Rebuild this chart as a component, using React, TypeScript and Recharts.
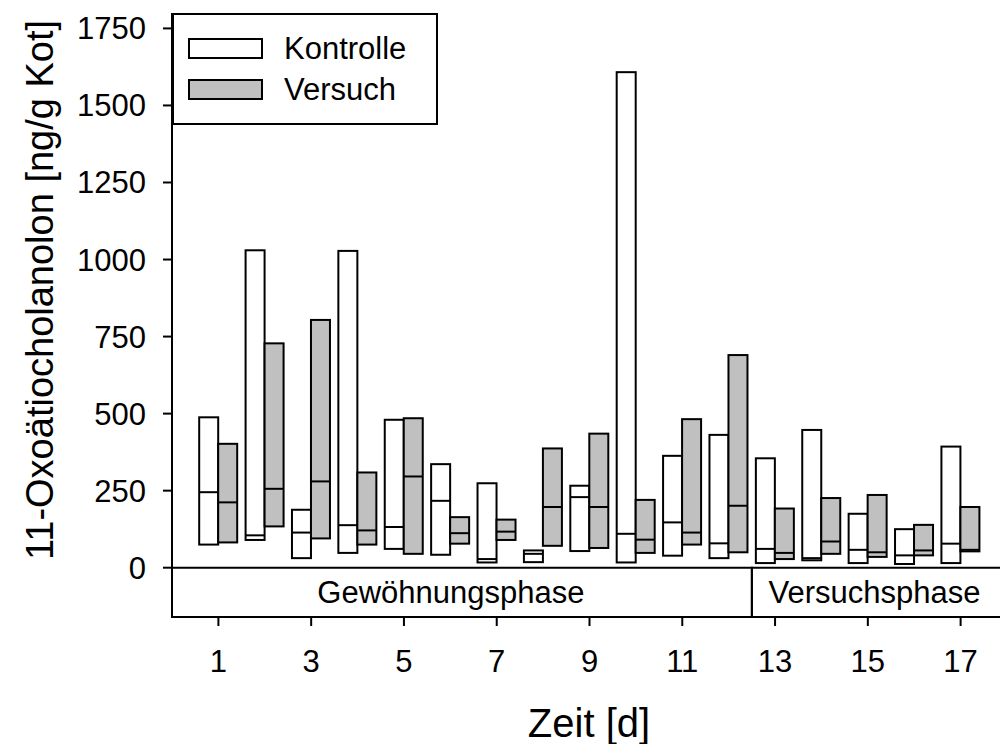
import { ComposedChart, Bar, XAxis, YAxis, ReferenceArea, Legend } from 'recharts';

const days = [1, 2, 3, 4, 5, 6, 7, 8, 9, 10, 11, 12, 13, 14, 15, 16, 17];

const kontrolleMin = [75, 90, 31, 48, 61, 42, 17, 18, 54, 17, 39, 31, 15, 24, 15, 12, 15];
const kontrolleMedian = [245, 105, 114, 138, 132, 217, 28, 45, 229, 110, 147, 79, 61, 31, 58, 40, 78];
const kontrolleMax = [488, 1030, 188, 1028, 480, 336, 274, 56, 266, 1608, 363, 431, 355, 447, 175, 125, 393];

const versuchMin = [82, 134, 95, 75, 45, 78, 90, 71, 64, 48, 75, 50, 28, 45, 35, 40, 53];
const versuchMedian = [212, 256, 280, 121, 296, 112, 117, 197, 197, 91, 114, 201, 48, 85, 50, 56, 58];
const versuchMax = [402, 728, 804, 309, 485, 164, 156, 387, 435, 220, 482, 690, 192, 226, 236, 139, 197];

const yTicks = [0, 250, 500, 750, 1000, 1250, 1500, 1750];
const xTicks = [1, 3, 5, 7, 9, 11, 13, 15, 17];

const phaseNames = ['Gewöhnungsphase', 'Versuchsphase'];
const phaseStart = [0, 12.5];
const phaseEnd = [12.5, 18];

const FONT = '"Liberation Sans", Arial, Helvetica, sans-serif';
const GRAY = '#c0c0c0';

const data = days.map((day, i) => ({
  day,
  kontrolle: [kontrolleMin[i], kontrolleMax[i]],
  kMed: kontrolleMedian[i],
  versuch: [versuchMin[i], versuchMax[i]],
  vMed: versuchMedian[i],
}));

// box from min to max with a line at the median
function RangeBox(props: any) {
  const { x, y, width, height, fill, payload, rangeKey, medKey } = props;
  const top = Math.min(y, y + height);
  const h = Math.abs(height);
  const [lo, hi] = payload[rangeKey];
  const my = hi === lo ? top : top + (h * (hi - payload[medKey])) / (hi - lo);
  return (
    <g>
      <rect x={x} y={top} width={width} height={h} fill={fill} stroke="#000" strokeWidth={2} />
      <line x1={x} x2={x + width} y1={my} y2={my} stroke="#000" strokeWidth={2} />
    </g>
  );
}

function PhaseLabel(props: any) {
  const { viewBox, value, dx } = props;
  return (
    <text
      x={viewBox.x + viewBox.width / 2 + dx}
      y={viewBox.y + viewBox.height / 2}
      textAnchor="middle"
      dominantBaseline="central"
      fontFamily={FONT}
      fontSize={31}
      fill="#000"
    >
      {value}
    </text>
  );
}

function YTitle(props: any) {
  const { viewBox } = props;
  const cx = 53;
  const cy = viewBox.y + viewBox.height / 2 - 25;
  return (
    <text
      x={cx}
      y={cy}
      transform={`rotate(-90, ${cx}, ${cy})`}
      textAnchor="middle"
      fontFamily={FONT}
      fontSize={38}
      fill="#000"
    >
      11-Oxoätiocholanolon [ng/g Kot]
    </text>
  );
}

function XTitle(props: any) {
  const { viewBox } = props;
  return (
    <text x={589} y={viewBox.y + 120} textAnchor="middle" fontFamily={FONT} fontSize={40} fill="#000">
      Zeit [d]
    </text>
  );
}

function LegendBox() {
  const rows = [
    { label: 'Kontrolle', fill: '#fff', top: 23 },
    { label: 'Versuch', fill: GRAY, top: 64 },
  ];
  return (
    <div
      style={{
        position: 'relative',
        width: 266,
        height: 112,
        boxSizing: 'border-box',
        border: '2px solid #000',
        background: '#fff',
        fontFamily: FONT,
        fontSize: 31,
        color: '#000',
      }}
    >
      {rows.map((r) => (
        <div key={r.label}>
          <div
            style={{
              position: 'absolute',
              left: 14,
              top: r.top,
              width: 75,
              height: 21,
              boxSizing: 'border-box',
              border: '2px solid #000',
              background: r.fill,
            }}
          />
          <div style={{ position: 'absolute', left: 110, top: r.top - 7, lineHeight: '36px' }}>{r.label}</div>
        </div>
      ))}
    </div>
  );
}

export default function App() {
  return (
    <div style={{ position: 'absolute', left: 0, top: 0, width: 1000, height: 744, overflow: 'hidden', background: '#fff' }}>
      <ComposedChart
        width={1030}
        height={744}
        data={data}
        margin={{ top: 13, right: 23, left: 0, bottom: 0 }}
        barGap={0}
      >
        <XAxis
          dataKey="day"
          type="number"
          domain={[0, 18]}
          ticks={xTicks}
          allowDataOverflow
          height={127}
          tickSize={9}
          tickMargin={24}
          axisLine={{ stroke: '#000', strokeWidth: 2 }}
          tickLine={{ stroke: '#000', strokeWidth: 2 }}
          tick={{ fill: '#000', fontSize: 31, fontFamily: FONT }}
          label={<XTitle />}
        />
        <YAxis
          type="number"
          domain={[-160, 1800]}
          ticks={yTicks}
          allowDataOverflow
          width={172}
          tickSize={9}
          tickMargin={17}
          axisLine={{ stroke: '#000', strokeWidth: 2 }}
          tickLine={{ stroke: '#000', strokeWidth: 2 }}
          tick={{ fill: '#000', fontSize: 31, fontFamily: FONT }}
          label={<YTitle />}
        />
        {phaseNames.map((name, i) => (
          <ReferenceArea
            key={name}
            x1={phaseStart[i]}
            x2={phaseEnd[i]}
            y1={-160}
            y2={0}
            fill="none"
            fillOpacity={0}
            stroke="#000"
            strokeWidth={2}
            label={<PhaseLabel value={name} dx={i === 0 ? -11 : -5} />}
          />
        ))}
        <Bar
          dataKey="kontrolle"
          name="Kontrolle"
          fill="#fff"
          barSize={19}
          isAnimationActive={false}
          shape={(p: any) => <RangeBox {...p} rangeKey="kontrolle" medKey="kMed" />}
        />
        <Bar
          dataKey="versuch"
          name="Versuch"
          fill={GRAY}
          barSize={19}
          isAnimationActive={false}
          shape={(p: any) => <RangeBox {...p} rangeKey="versuch" medKey="vMed" />}
        />
        <Legend
          layout="horizontal"
          verticalAlign="middle"
          align="center"
          content={() => <LegendBox />}
          wrapperStyle={{ position: 'absolute', left: 172, top: 13, width: 266, height: 112 }}
        />
      </ComposedChart>
    </div>
  );
}
